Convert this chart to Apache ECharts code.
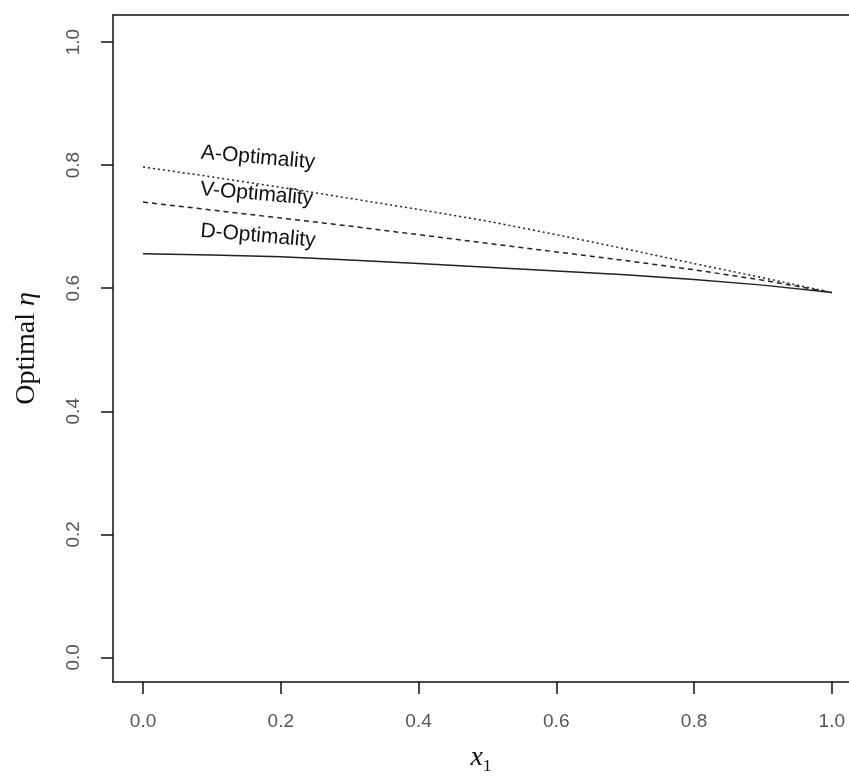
<!DOCTYPE html>
<html>
<head>
<meta charset="utf-8">
<script src="https://cdn.jsdelivr.net/npm/echarts@6/dist/echarts.min.js"></script>
<style>
  html, body { margin: 0; padding: 0; background: #fff; }
  #chart { width: 849px; height: 782px; }
</style>
</head>
<body>
<div id="chart"></div>
<script>
// values
const x1Values = [0, 0.1, 0.2, 0.3, 0.4, 0.5, 0.6, 0.7, 0.8, 0.9, 1.0];
const aOptimality = [0.797, 0.781, 0.764, 0.746, 0.728, 0.709, 0.687, 0.664, 0.640, 0.617, 0.593];
const vOptimality = [0.740, 0.727, 0.714, 0.701, 0.687, 0.673, 0.659, 0.645, 0.630, 0.613, 0.593];
const dOptimality = [0.656, 0.654, 0.651, 0.646, 0.640, 0.634, 0.628, 0.622, 0.614, 0.605, 0.593];
const xTicks = [0, 0.2, 0.4, 0.6, 0.8, 1.0];
const yTicks = [0, 0.2, 0.4, 0.6, 0.8, 1.0];

const pairs = (ys) => x1Values.map((x, i) => [x, ys[i]]);

const chart = echarts.init(document.getElementById('chart'));

// label placed on the curve, a bit tilted like the original
const curveLabel = (text, at) => ({
    silent: true,
    symbolSize: 0,
    data: [{ coord: at }],
    label: {
        show: true,
        position: 'inside',
        formatter: text,
        rotate: -5,
        color: '#111',
        fontFamily: 'Liberation Sans, Arial, sans-serif',
        fontSize: 21
    }
});

const tickLabel = {
    formatter: (v) => v.toFixed(1),
    color: '#555',
    fontFamily: 'Liberation Sans, Arial, sans-serif',
    fontSize: 19
};

const boxLine = { show: true, onZero: false, lineStyle: { color: '#111', width: 1.5 } };

// the plot runs off the right edge, so the box has no right side
const option = {
    animation: false,
    grid: {
        left: 113,
        top: 15,
        right: 0,
        bottom: 100,
        show: false
    },
    xAxis: [
        {
            type: 'value',
            min: -0.0436,
            max: 1.025,
            name: '{x|x}{s|1}',
            nameLocation: 'middle',
            nameGap: 62,
            nameTextStyle: {
                rich: {
                    x: { fontFamily: 'Liberation Serif, serif', fontStyle: 'italic', fontSize: 28, lineHeight: 28, verticalAlign: 'top', color: '#111' },
                    s: { fontFamily: 'Liberation Serif, serif', fontSize: 17, lineHeight: 17, padding: [14, 0, 0, 0], verticalAlign: 'top', color: '#111' }
                }
            },
            axisLine: boxLine,
            splitLine: { show: false },
            axisTick: { show: true, customValues: xTicks, length: 12, lineStyle: { color: '#111', width: 1.5 } },
            axisLabel: Object.assign({ customValues: xTicks, margin: 30 }, tickLabel)
        },
        {
            type: 'value',
            position: 'top',
            min: -0.0436,
            max: 1.025,
            axisLine: boxLine,
            splitLine: { show: false },
            axisTick: { show: false },
            axisLabel: { show: false }
        }
    ],
    yAxis: {
        type: 'value',
        min: -0.04,
        max: 1.044,
        name: 'Optimal {e|η}',
        nameLocation: 'middle',
        nameRotate: 90,
        nameGap: 72,
        nameTextStyle: {
            fontFamily: 'Liberation Serif, serif',
            fontSize: 28,
            color: '#111',
            rich: {
                e: { fontFamily: 'Liberation Serif, serif', fontStyle: 'italic', fontSize: 28, color: '#111' }
            }
        },
        axisLine: boxLine,
        splitLine: { show: false },
        axisTick: { show: true, customValues: yTicks, length: 12, lineStyle: { color: '#111', width: 1.5 } },
        axisLabel: Object.assign({ customValues: yTicks, margin: 30, rotate: 90 }, tickLabel)
    },
    series: [
        {
            name: 'A-Optimality',
            type: 'line',
            data: pairs(aOptimality),
            showSymbol: false,
            lineStyle: { color: '#222', width: 1.5, type: [2, 3] },
            markPoint: curveLabel('A-Optimality', [0.167, 0.812])
        },
        {
            name: 'V-Optimality',
            type: 'line',
            data: pairs(vOptimality),
            showSymbol: false,
            lineStyle: { color: '#222', width: 1.5, type: [5, 4] },
            markPoint: curveLabel('V-Optimality', [0.165, 0.753])
        },
        {
            name: 'D-Optimality',
            type: 'line',
            data: pairs(dOptimality),
            showSymbol: false,
            lineStyle: { color: '#222', width: 1.5, type: 'solid' },
            markPoint: curveLabel('D-Optimality', [0.167, 0.685])
        }
    ]
};

option && chart.setOption(option);
</script>
</body>
</html>
